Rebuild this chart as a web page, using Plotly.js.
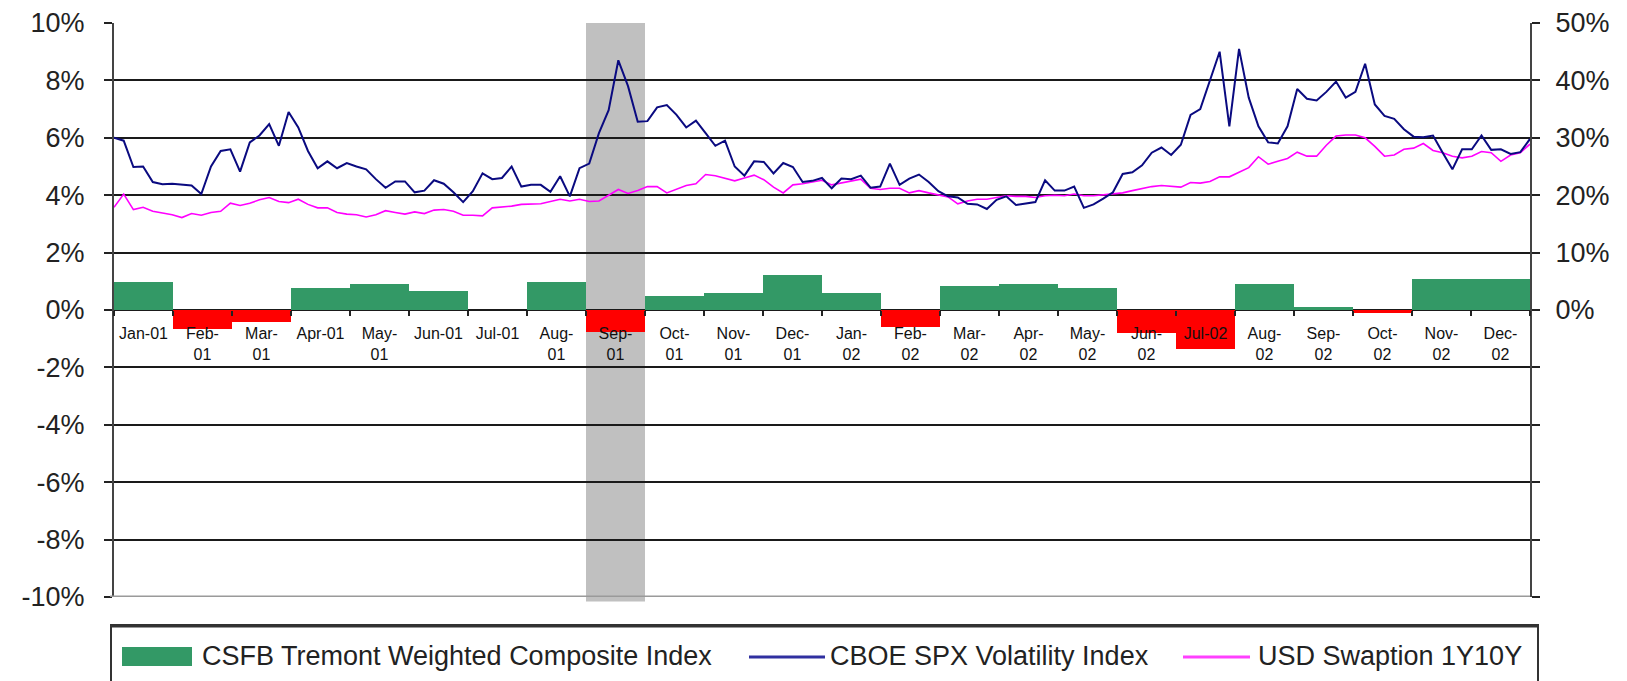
<!DOCTYPE html>
<html>
<head>
<meta charset="utf-8">
<script src="https://cdn.plot.ly/plotly-3.0.1.min.js"></script>
<style>
html,body{margin:0;padding:0;background:#fff;}
#chart{width:1627px;height:681px;}
</style>
</head>
<body>
<div id="chart"></div>
<script>
// Monthly categories (tick labels)
const months = ['Jan-01','Feb-<br>01','Mar-<br>01','Apr-01','May-<br>01','Jun-01','Jul-01','Aug-<br>01','Sep-<br>01','Oct-<br>01','Nov-<br>01','Dec-<br>01',
                'Jan-<br>02','Feb-<br>02','Mar-<br>02','Apr-<br>02','May-<br>02','Jun-<br>02','Jul-02','Aug-<br>02','Sep-<br>02','Oct-<br>02','Nov-<br>02','Dec-<br>02'];
// CSFB Tremont Weighted Composite Index monthly return (%)
const csfb = [0.98,-0.66,-0.43,0.75,0.90,0.67,0.0,0.98,-0.75,0.50,0.59,1.22,
              0.59,-0.58,0.85,0.90,0.75,-0.80,-1.35,0.90,0.10,-0.10,1.07,1.07];
// CBOE SPX Volatility Index (%), sampled every 5 days from 2001-01-01
const vix = [30.0,29.5,24.9,25.0,22.3,21.9,22.0,21.9,21.7,20.2,25.0,27.7,28.0,24.1,29.2,30.4,32.4,28.6,34.5,31.8,27.7,24.7,25.9,24.7,
             25.6,25.0,24.5,22.8,21.3,22.4,22.4,20.5,20.8,22.6,22.0,20.5,18.8,20.7,23.8,22.8,23.0,25.0,21.5,21.8,21.8,20.6,23.3,19.8,
             24.7,25.5,30.8,34.8,43.5,39.0,32.8,32.9,35.3,35.7,34.0,31.8,33.0,30.8,28.6,29.5,25.0,23.4,25.9,25.8,23.8,25.6,24.9,22.3,22.5,
             23.0,21.2,22.9,22.8,23.4,21.3,21.5,25.5,21.8,22.9,23.6,22.3,20.7,19.8,19.6,18.5,18.4,17.6,19.2,19.8,18.3,18.5,18.8,22.6,20.8,
             20.8,21.5,17.8,18.4,19.4,20.5,23.7,24.0,25.2,27.4,28.3,27.0,28.8,34.0,35.0,40.0,45.0,32.0,45.5,37.0,32.0,29.2,29.0,32.0,38.5,
             36.8,36.5,38.0,39.8,37.0,38.0,42.9,35.8,33.8,33.3,31.5,30.2,30.1,30.4,27.4,24.5,28.0,28.0,30.4,27.9,28.0,27.2,27.5,29.8];
// USD Swaption 1Y10Y implied volatility (%), same sampling
const swaption = [17.9,20.2,17.5,17.9,17.2,16.9,16.6,16.1,16.8,16.5,17.0,17.2,18.6,18.2,18.6,19.2,19.6,18.9,18.7,19.3,18.4,17.8,17.8,17.0,
                  16.7,16.6,16.2,16.6,17.3,17.0,16.7,17.1,16.8,17.4,17.5,17.2,16.5,16.5,16.4,17.8,17.9,18.1,18.4,18.4,18.5,18.9,19.3,19.0,
                  19.3,18.9,19.0,20.0,21.0,20.3,20.8,21.5,21.5,20.4,21.0,21.7,22.0,23.6,23.4,23.0,22.5,23.0,23.5,22.7,21.4,20.4,21.8,22.0,22.3,
                  22.6,21.8,22.1,22.4,22.8,21.2,21.0,21.2,21.2,20.4,20.8,20.4,20.0,19.7,18.5,19.0,19.3,19.3,19.6,19.9,19.8,19.8,19.6,19.9,20.0,
                  19.9,20.2,19.9,19.9,20.1,20.2,20.4,20.8,21.2,21.5,21.7,21.6,21.4,22.2,22.1,22.4,23.2,23.2,24.0,24.8,26.7,25.4,25.9,26.4,27.5,
                  26.8,26.8,28.7,30.3,30.5,30.5,30.0,28.5,26.8,27.0,28.0,28.2,29.0,27.8,27.4,26.8,26.5,26.8,27.6,27.4,25.9,27.0,27.4,28.9];
const shadedMonth = 'Sep-<br>01';
const leftTicks = [-10,-8,-6,-4,-2,0,2,4,6,8,10];
const rightTicks = [-50,-40,-30,-20,-10,0,10,20,30,40,50];

const dates = vix.map((_, k) => new Date(Date.UTC(2001,0,1) + k*5*86400000).toISOString().slice(0,10));
const FONT = 'Liberation Sans, Arial, sans-serif';

const traces = [
  {type:'bar', x:months, y:csfb, xaxis:'x', yaxis:'y', width:1,
   marker:{color:csfb.map(v => v < 0 ? '#FF0000' : '#339966'), line:{width:0}},
   name:'CSFB Tremont Weighted Composite Index', hoverinfo:'x+y'},
  {type:'scatter', mode:'lines', x:dates, y:swaption, xaxis:'x2', yaxis:'y2',
   line:{color:'#FF00FF', width:1.6}, name:'USD Swaption 1Y10Y'},
  {type:'scatter', mode:'lines', x:dates, y:vix, xaxis:'x2', yaxis:'y2',
   line:{color:'#0A0A80', width:2}, name:'CBOE SPX Volatility Index'}
];

const L = 114, R = 1530, T = 23, B = 597;
const px = X => (X - L)/(R - L);
const py = Y => (B - Y)/(B - T);
const sI = months.indexOf(shadedMonth);

const layout = {
  width:1627, height:681,
  margin:{l:L, r:1627-R, t:T, b:681-B, pad:0},
  paper_bgcolor:'#fff', plot_bgcolor:'#fff',
  showlegend:false, bargap:0,
  font:{family:FONT, color:'#222'},
  xaxis:{type:'category', categoryorder:'array', categoryarray:months, range:[-0.5, months.length-0.5],
         anchor:'free', position:0.5, tickson:'boundaries', ticks:'outside', ticklen:5, tickwidth:2, tickcolor:'#222',
         ticklabelstandoff:12,
         showgrid:false, showline:false, zeroline:false, tickangle:0,
         tickfont:{family:FONT, size:16, color:'#111'}, fixedrange:true},
  xaxis2:{type:'date', overlaying:'x', range:['2001-01-01','2003-01-01'], visible:false, anchor:'y2', fixedrange:true},
  yaxis:{range:[-10,10], tickvals:leftTicks, ticktext:leftTicks.map(v => v + '%'),
         ticks:'outside', ticklen:8, tickwidth:2, tickcolor:'#222', ticklabelstandoff:14,
         showline:true, linecolor:'#444', linewidth:2, mirror:false,
         showgrid:true, gridcolor:'#1a1a1a', gridwidth:2, zeroline:false,
         tickfont:{family:FONT, size:27, color:'#222'}, fixedrange:true},
  yaxis2:{range:[-50,50], overlaying:'y', side:'right', anchor:'x2',
          tickvals:rightTicks, ticktext:rightTicks.map(v => v < 0 ? '' : v + '%'),
          ticks:'outside', ticklen:8, tickwidth:2, tickcolor:'#222', ticklabelstandoff:10,
          showline:true, linecolor:'#444', linewidth:2,
          showgrid:false, zeroline:false,
          tickfont:{family:FONT, size:27, color:'#222'}, fixedrange:true},
  shapes:[
    {type:'rect', xref:'x', yref:'paper', x0:sI-0.5, x1:sI+0.5, y0:-0.008, y1:1,
     fillcolor:'#C0C0C0', line:{width:0}, layer:'between'},
    {type:'line', xref:'paper', yref:'y', x0:px(110), x1:1, y0:-10, y1:-10,
     line:{color:'#9a9a9a', width:3}, layer:'above'},
    // legend box
    {type:'rect', xref:'paper', yref:'paper', x0:px(111), x1:px(1538), y0:py(625), y1:py(700),
     fillcolor:'#fff', line:{color:'#333', width:2}},
    {type:'line', xref:'paper', yref:'paper', x0:px(111), x1:px(1538), y0:py(626), y1:py(626),
     line:{color:'#333', width:3}},
    {type:'rect', xref:'paper', yref:'paper', x0:px(122), x1:px(192), y0:py(666), y1:py(647),
     fillcolor:'#339966', line:{width:0}},
    {type:'line', xref:'paper', yref:'paper', x0:px(749), x1:px(825), y0:py(657), y1:py(657),
     line:{color:'#3030A0', width:3}},
    {type:'line', xref:'paper', yref:'paper', x0:px(1183), x1:px(1250), y0:py(657), y1:py(657),
     line:{color:'#FF40FF', width:3}}
  ],
  annotations:[
    {xref:'paper', yref:'paper', x:px(200), y:py(656), xanchor:'left', yanchor:'middle', showarrow:false,
     text:'CSFB Tremont Weighted Composite Index', font:{family:FONT, size:27, color:'#222'}},
    {xref:'paper', yref:'paper', x:px(828), y:py(656), xanchor:'left', yanchor:'middle', showarrow:false,
     text:'CBOE SPX Volatility Index', font:{family:FONT, size:27, color:'#222'}},
    {xref:'paper', yref:'paper', x:px(1256), y:py(656), xanchor:'left', yanchor:'middle', showarrow:false,
     text:'USD Swaption 1Y10Y', font:{family:FONT, size:27, color:'#222'}}
  ]
};

Plotly.newPlot('chart', traces, layout, {displayModeBar:false, staticPlot:true});
</script>
</body>
</html>
